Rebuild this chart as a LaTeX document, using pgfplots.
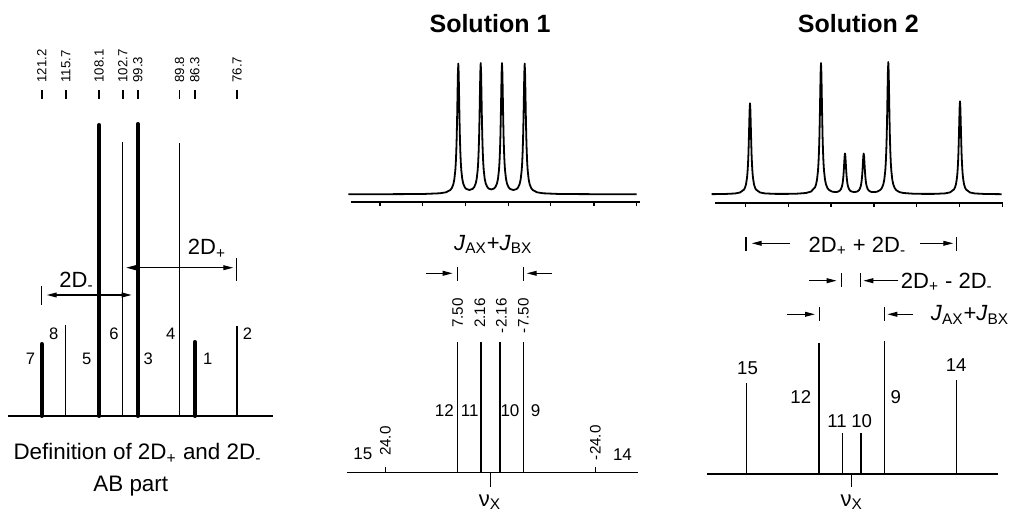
\documentclass[border=0pt]{standalone}
\usepackage{fontspec}
\setmainfont{Liberation Sans}
\usepackage{pgfplots}
\pgfplotsset{compat=1.18}
\usetikzlibrary{arrows.meta}
\begin{document}
\begin{tikzpicture}
\path[use as bounding box] (0pt,0pt) rectangle (504.5pt,-259pt);
\tikzset{tip/.tip={Triangle[length=5pt,width=2.4pt]}}
% ---------------- Panel A: AB part ----------------
\begin{axis}[at={(4pt,-208pt)}, anchor=south west, scale only axis,
  width=132.5pt, height=158.5pt,
  x dir=reverse, xmin=68.5, xmax=128.88, ymin=0, ymax=317, clip=false,
  axis x line=top, axis y line=none, x axis line style={draw=none},
  xtick={121.2,115.7,108.1,102.7,99.3,89.8,86.3,76.7},
  xticklabels={},
  tick align=outside, major tick length=4.5pt,
  xtick style={black, line width=0.85pt}]
\addplot[black, line width=0.65pt, mark=none] coordinates {(128.88,0) (68.5,0)};
\addplot[ycomb, black, line width=2pt, line cap=round, mark=none] coordinates {(121.2,72) (108.1,291) (99.3,292) (86.3,74)};
\addplot[ycomb, black, line width=0.6pt, mark=none] coordinates {(115.7,91) (102.7,274) (89.8,273) (76.7,90)};
\end{axis}
% ---------------- Panel B: Solution 1 spectrum ----------------
\begin{axis}[at={(175.35pt,-100.85pt)}, anchor=south west, scale only axis,
  width=144.65pt, height=69.2pt, xmin=350.7, xmax=640, ymin=-7.4, ymax=131, clip=false,
  axis x line=bottom, axis y line=none, x axis line style={-, line width=1pt},
  xtick={380,422.7,465.3,508.3,550.7,594,636.7}, xticklabels={},
  tick align=outside, major tick length=2pt, xtick style={black, line width=0.6pt}]
\addplot[black, line width=0.9pt, line join=round, mark=none] coordinates {
(348.3,0.05) (400,0.16) (425,0.38) (440,1.01) (446,2.0) (450.3,4.28) (451.8,6.22) (453.3,9.93) (454.3,14.7) (455.3,23.7) (455.8,31.5) (456.3,43.3) (456.7,56.9) (457.1,75.4) (457.5,98.5) (457.9,120.7) (458.3,130.7) (458.7,120.8) (459.1,98.7) (459.5,75.6) (459.9,57.1) (460.3,43.6) (460.8,31.9) (461.3,24.1) (462.3,15.2) (463.3,10.5) (464.8,7.0) (466.3,5.34) (469.5,4.32) (472.7,5.47) (474.2,7.19) (475.7,10.76) (476.7,15.45) (477.7,24.4) (478.2,32.2) (478.7,44.0) (479.1,57.6) (479.5,76.1) (479.9,99.2) (480.3,121.4) (480.7,131.2) (481.1,121.4) (481.5,99.2) (481.9,76.1) (482.3,57.6) (482.7,44.0) (483.2,32.2) (483.7,24.5) (484.7,15.57) (485.7,10.9) (487.2,7.39) (488.7,5.75) (491.35,4.88) (494,5.75) (495.5,7.39) (497,10.9) (498,15.57) (499,24.5) (499.5,32.2) (500,44.0) (500.4,57.6) (500.8,76.1) (501.2,99.2) (501.6,121.4) (502.0,131.2) (502.4,121.4) (502.8,99.2) (503.2,76.1) (503.6,57.6) (504,44.0) (504.5,32.2) (505,24.4) (506,15.45) (507,10.74) (508.5,7.15) (510,5.43) (513.35,4.22) (516.7,5.3) (518.2,6.98) (519.7,10.51) (520.7,15.17) (521.7,24.08) (522.2,31.7) (522.7,43.5) (523.1,57.1) (523.5,75.6) (523.9,98.7) (524.3,120.9) (524.7,130.7) (525.1,120.8) (525.5,98.6) (525.9,75.5) (526.3,57.0) (526.7,43.4) (527.2,31.6) (527.7,23.75) (528.7,14.73) (529.7,9.95) (531.2,6.23) (532.7,4.3) (537,2.0) (543,1.01) (557,0.40) (582,0.16) (636.7,0.05)};
\end{axis}
% ---------------- Panel C: Solution 2 spectrum ----------------
\begin{axis}[at={(357.5pt,-101.35pt)}, anchor=south west, scale only axis,
  width=144.15pt, height=70.35pt, xmin=715, xmax=1003.3, ymin=-8.4, ymax=132.3, clip=false,
  axis x line=bottom, axis y line=none, x axis line style={-, line width=1pt},
  xtick={745.7,788.3,831,874,916.7,959.3,1002.3}, xticklabels={},
  tick align=outside, major tick length=2pt, xtick style={black, line width=0.6pt}]
\addplot[black, line width=0.9pt, line join=round, mark=none] coordinates {
(711.7,0.15) (725,0.31) (735,0.82) (740,1.78) (744,4.72) (745,6.67) (746,9.98) (747,16.35) (747.5,21.75) (748,29.95) (748.4,39.55) (748.8,52.55) (749.2,68.65) (749.6,84.15) (750,91.05) (750.4,84.15) (750.8,68.65) (751.2,52.55) (751.6,39.55) (752,29.95) (752.5,21.75) (753,16.35) (754,9.98) (755,6.7) (756,4.76) (760,1.82) (765,0.87) (775,0.44) (785.5,0.40) (796,0.56) (806,1.30) (811,2.71) (815,6.97) (816,9.72) (817,14.5) (818,23.6) (818.5,31.5) (819,43.3) (819.4,57.0) (819.8,75.7) (820.2,98.9) (820.6,121.3) (821,131.3) (821.4,121.4) (821.8,99.0) (822.2,75.8) (822.6,57.1) (823,43.4) (823.5,31.6) (824,23.72) (825,14.64) (826,9.89) (827.5,6.2) (829,4.34) (832,2.71) (835,2.26) (837,2.40) (838.5,2.83) (840,3.87) (841,5.26) (842,8.01) (842.5,10.39) (843,14.0) (843.4,18.1) (843.8,23.9) (844.2,31.0) (844.6,37.8) (845,40.84) (845.4,37.8) (845.8,31.0) (846.2,23.9) (846.6,18.1) (847,14.0) (847.5,10.35) (848,7.98) (849,5.22) (850,3.79) (851.5,2.76) (854.35,2.24) (857.2,2.75) (858.7,3.79) (859.7,5.21) (860.7,7.97) (861.2,10.37) (861.7,14.0) (862.1,18.1) (862.5,23.9) (862.9,31.0) (863.3,37.8) (863.7,40.82) (864.1,37.8) (864.5,31.0) (864.9,23.9) (865.3,18.1) (865.7,14.0) (866.2,10.4) (866.7,8.0) (867.7,5.24) (868.7,3.83) (870.2,2.80) (871.7,2.33) (874.7,2.2) (877.3,2.68) (880.3,4.34) (881.8,6.22) (883.3,9.94) (884.3,14.71) (885.3,23.9) (885.8,31.8) (886.3,43.7) (886.7,57.5) (887.1,76.4) (887.5,99.8) (887.9,122.3) (888.3,132.3) (888.7,122.3) (889.1,99.8) (889.5,76.4) (889.9,57.5) (890.3,43.6) (890.8,31.7) (891.3,23.83) (892.3,14.63) (893.3,9.82) (894.8,6.06) (896.3,4.12) (899.3,2.28) (903.3,1.31) (913.3,0.58) (924.15,0.40) (935,0.45) (945,0.91) (950,1.89) (954,4.88) (955,6.84) (956,10.23) (957,16.68) (957.5,22.28) (958,30.68) (958.4,40.38) (958.8,53.68) (959.2,70.18) (959.6,86.08) (960,93.08) (960.4,86.06) (960.8,70.16) (961.2,53.66) (961.6,40.36) (962,30.66) (962.5,22.26) (963,16.66) (964,10.2) (965,6.8) (966,4.82) (970,1.81) (975,0.83) (985,0.31) (1001.7,0.12)};
\end{axis}
% ---------------- Panel D: Solution 1 sticks ----------------
\begin{axis}[at={(173.35pt,-236.35pt)}, anchor=south west, scale only axis,
  width=145.8pt, height=65.5pt, x dir=reverse, xmin=-33.80, xmax=32.88,
  ymin=0, ymax=131, clip=false, hide axis]
\addplot[black, line width=0.75pt, mark=none] coordinates {(32.88,0) (-33.80,0)};
\addplot[ycomb, black, line width=0.75pt, mark=none] coordinates {(7.50,131) (2.16,131) (-2.16,131) (-7.50,131) (24.0,6) (-24.0,6) (0,-14)};
\end{axis}
% ---------------- Panel E: Solution 2 sticks ----------------
\begin{axis}[at={(353.65pt,-237pt)}, anchor=south west, scale only axis,
  width=145.5pt, height=66.5pt, x dir=reverse, xmin=-33.52, xmax=33.02,
  ymin=0, ymax=133, clip=false, hide axis]
\addplot[black, line width=0.75pt, mark=none] coordinates {(33.02,0) (-33.52,0)};
\addplot[ycomb, black, line width=0.75pt, mark=none] coordinates {(24.0,91) (7.50,131) (2.16,41) (-2.16,41) (-7.50,133) (-24.0,94) (0,-12.7)};
\end{axis}
% ---------------- Annotations (pixel coordinates) ----------------
\begin{scope}[x=0.5pt, y=-0.5pt, every node/.style={inner sep=0pt}]
\def\lw{0.65pt}
% Panel A tick labels
\begin{scope}[font=\fontsize{6.6}{8}\selectfont]
\node[rotate=90, anchor=west] at (41.7,82.8) {121.2};
\node[rotate=90, anchor=west] at (65.8,82.8) {115.7};
\node[rotate=90, anchor=west] at (99.2,82.8) {108.1};
\node[rotate=90, anchor=west] at (122.9,82.8) {102.7};
\node[rotate=90, anchor=west] at (137.8,82.8) {99.3};
\node[rotate=90, anchor=west] at (179.5,82.8) {89.8};
\node[rotate=90, anchor=west] at (194.9,82.8) {86.3};
\node[rotate=90, anchor=west] at (237.0,82.8) {76.7};
\end{scope}
% Panel A
\begin{scope}[font=\fontsize{8.3}{9}\selectfont]
\node[anchor=base] at (30.5,365) {7};
\node[anchor=base] at (53.8,339.5) {8};
\node[anchor=base] at (86.7,365) {5};
\node[anchor=base] at (114,339.5) {6};
\node[anchor=base] at (148.3,365) {3};
\node[anchor=base] at (170.8,339.5) {4};
\node[anchor=base] at (207.7,365) {1};
\node[anchor=base] at (247.5,339.5) {2};
\end{scope}
\node[anchor=base west, font=\fontsize{11}{12}\selectfont] at (59,287.3) {2D\textsubscript{-}};
\draw[line width=\lw] (41.3,286) -- (41.3,305);
\draw[line width=\lw, tip-tip] (46.7,295) -- (131.7,295);
\node[anchor=base west, font=\fontsize{11}{12}\selectfont] at (187.5,255) {2D\textsubscript{+}};
\draw[line width=\lw] (236.3,258.3) -- (236.3,281);
\draw[line width=\lw, tip-tip] (126,267.7) -- (233.3,267.7);
\node[anchor=base, font=\fontsize{11.2}{13}\selectfont] at (137.5,460) {Definition of 2D\textsubscript{+} and 2D\textsubscript{-}};
\node[anchor=base, font=\fontsize{11.2}{13}\selectfont] at (130.8,491.7) {AB part};
% Titles
\node[anchor=base, font=\fontsize{12.5}{14}\selectfont\bfseries] at (490,32.3) {Solution 1};
\node[anchor=base, font=\fontsize{12.5}{14}\selectfont\bfseries] at (858.3,32.3) {Solution 2};
% Panel D
\node[anchor=base, font=\fontsize{11}{12}\selectfont] at (493.3,250.5) {\textit{J}\textsubscript{AX}+\textit{J}\textsubscript{BX}};
\draw[line width=\lw, -tip] (426,273.3) -- (452.7,273.3);
\draw[line width=\lw] (457.7,266.7) -- (457.7,280.7);
\draw[line width=\lw, -tip] (551.7,273.3) -- (526.7,273.3);
\draw[line width=\lw] (523.3,266.7) -- (523.3,280.7);
\begin{scope}[font=\fontsize{7.6}{8}\selectfont]
\node[rotate=90, anchor=east] at (457.7,298) {7.50};
\node[rotate=90, anchor=east] at (480,298) {2.16};
\node[rotate=90, anchor=east] at (501.3,298) {-2.16};
\node[rotate=90, anchor=east] at (523.3,298) {-7.50};
\node[rotate=90, anchor=east] at (385.5,426) {24.0};
\node[rotate=90, anchor=east] at (595.5,425) {-24.0};
\end{scope}
\begin{scope}[font=\fontsize{8.5}{9}\selectfont]
\node[anchor=base] at (444.3,416.7) {12};
\node[anchor=base] at (469.7,416.7) {11};
\node[anchor=base] at (510,416.7) {10};
\node[anchor=base] at (535.5,416.7) {9};
\node[anchor=base] at (362.8,459.3) {15};
\node[anchor=base] at (622.5,461) {14};
\end{scope}
\node[anchor=base, font=\fontsize{11}{12}\selectfont] at (490,506.7) {ν\textsubscript{X}};
% Panel E
\node[anchor=base west, font=\fontsize{11}{12}\selectfont] at (808.3,252.3) {2D\textsubscript{+} + 2D\textsubscript{-}};
\draw[line width=\lw] (746,237.3) -- (746,250.7);
\draw[line width=\lw, -tip] (790,243.3) -- (751.7,243.3);
\draw[line width=\lw, -tip] (920,243.3) -- (953.3,243.3);
\draw[line width=\lw] (956.7,237.3) -- (956.7,250.7);
\node[anchor=base west, font=\fontsize{11}{12}\selectfont] at (900.5,288.3) {2D\textsubscript{+} - 2D\textsubscript{-}};
\draw[line width=\lw, -tip] (809.3,280.7) -- (836.7,280.7);
\draw[line width=\lw] (841.7,273.3) -- (841.7,287.3);
\draw[line width=\lw] (860.7,273.3) -- (860.7,287.3);
\draw[line width=\lw, -tip] (898.3,280.7) -- (863.3,280.7);
\node[anchor=base west, font=\fontsize{11}{12}\selectfont] at (930.5,321) {\textit{J}\textsubscript{AX}+\textit{J}\textsubscript{BX}};
\draw[line width=\lw, -tip] (787.3,314.3) -- (815,314.3);
\draw[line width=\lw] (819.3,307.3) -- (819.3,320.7);
\draw[line width=\lw] (884.3,307.3) -- (884.3,320.7);
\draw[line width=\lw, -tip] (913.3,314.3) -- (887.3,314.3);
\begin{scope}[font=\fontsize{9.3}{10}\selectfont]
\node[anchor=base] at (747.5,375) {15};
\node[anchor=base] at (800.8,403.3) {12};
\node[anchor=base] at (837,427.3) {11};
\node[anchor=base] at (861.7,427.3) {10};
\node[anchor=base] at (895.8,403.3) {9};
\node[anchor=base] at (956.2,371.7) {14};
\end{scope}
\node[anchor=base, font=\fontsize{11}{12}\selectfont] at (851.7,506.7) {ν\textsubscript{X}};
\end{scope}
\end{tikzpicture}
\end{document}
